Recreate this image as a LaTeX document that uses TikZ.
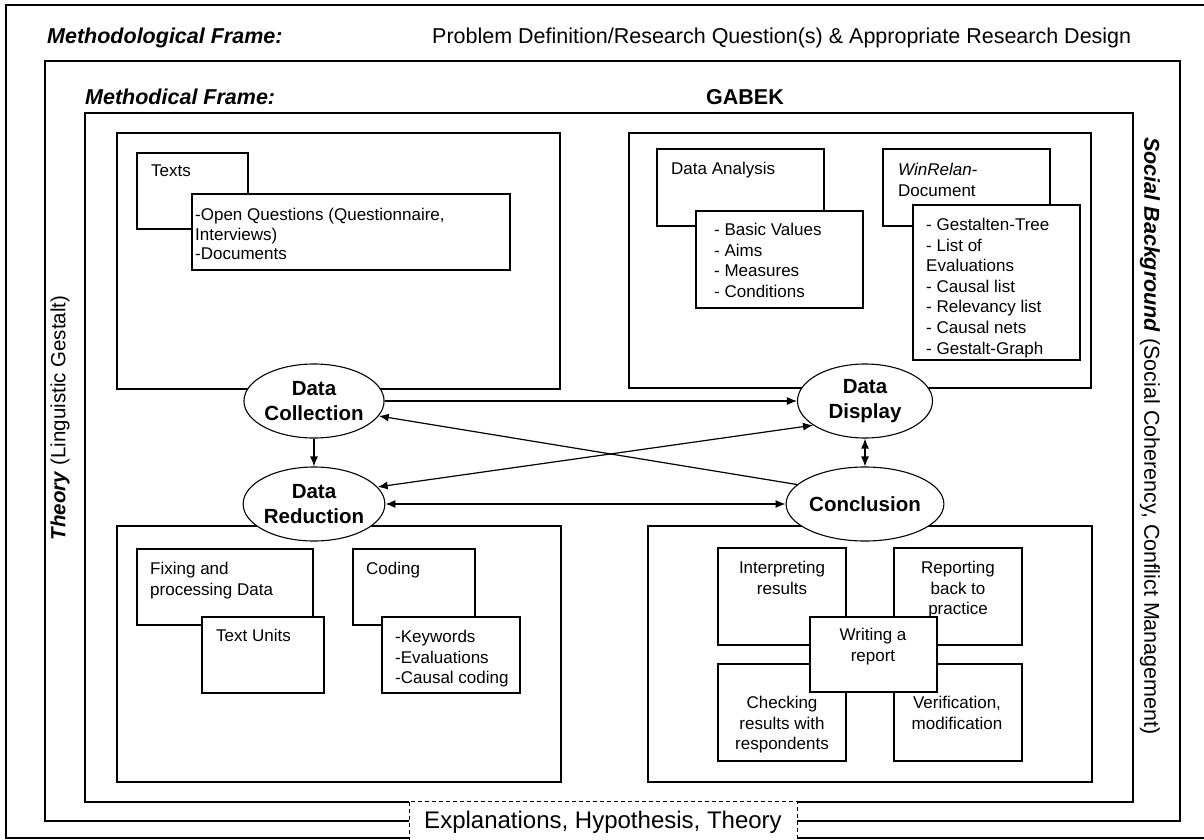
\documentclass[tikz,border=0pt]{standalone}
\usepackage{fontspec}
\setmainfont{Liberation Sans}
\usetikzlibrary{shapes.geometric,arrows.meta}
\begin{document}
\begin{tikzpicture}[x=1pt,y=-1pt,
  frame/.style={draw=black,line width=1.3pt},
  qbox/.style={draw=black,line width=1.1pt,fill=white,anchor=north west,inner sep=0pt,outer sep=0pt},
  txt/.style={anchor=north west,inner sep=0pt,align=left,font=\fontsize{17}{20.5}\selectfont},
  ctxt/.style={anchor=north,inner sep=0pt,align=center,font=\fontsize{17}{20.7}\selectfont},
  stage/.style={ellipse,draw=black,line width=1.1pt,fill=white,minimum width=135pt,minimum height=74pt,inner sep=0pt,align=center,font=\fontsize{20.5}{25}\selectfont\bfseries},
  hd/.style={anchor=west,inner sep=0pt,font=\fontsize{21.5}{25}\selectfont},
  tip/.tip={Latex[length=10pt,width=8pt]},
  arr/.style={line width=1.2pt,-tip},
  darr/.style={line width=1.2pt,tip-tip}
]
\useasboundingbox (0,0) rectangle (1204,840);
\clip (0,0) rectangle (1204,840);

% frames
\draw[frame] (6,5) rectangle (1215,838);
\draw[frame] (45,61) rectangle (1180,821);
\draw[frame] (85,113) rectangle (1133,802);

% headers
\node[hd,font=\fontsize{21.5}{25}\selectfont\bfseries\itshape] (h1) at (47,38) {Methodological Frame:};
\node[hd] (h2) at (432,38) {Problem Definition/Research Question(s) \& Appropriate Research Design};
\node[hd,font=\fontsize{21.5}{25}\selectfont\bfseries\itshape] (h3) at (85,97) {Methodical Frame:};
\node[inner sep=0pt,font=\fontsize{21.5}{25}\selectfont\bfseries] (h4) at (745,97) {GABEK};

% side texts
\node[rotate=90,inner sep=0pt,font=\fontsize{20.5}{24}\selectfont] (th) at (60,418) {\textbf{\textit{Theory}} (Linguistic Gestalt)};
\node[rotate=-90,inner sep=0pt,font=\fontsize{21.5}{25}\selectfont] (sb) at (1150,436) {\textbf{\textit{Social Background}} (Social Coherency, Conflict Management)};

% quadrants
\node[qbox,minimum width=443pt,minimum height=256pt] (q1) at (117,133) {};
\node[qbox,minimum width=462pt,minimum height=255pt] (q2) at (629,133) {};
\node[qbox,minimum width=444pt,minimum height=256pt] (q3) at (117,526) {};
\node[qbox,minimum width=444pt,minimum height=256pt] (q4) at (648,526) {};

% top-left
\node[qbox,minimum width=111pt,minimum height=76pt] (bTexts) at (137,153) {};
\node[txt] (tTexts) at (151,165) {Texts};
\node[qbox,minimum width=318pt,minimum height=76pt] (bOpen) at (192,194) {};
\node[txt,font=\fontsize{17}{19.7}\selectfont] (tOpen) at (195,208) {-Open Questions (Questionnaire,\\Interviews)\\-Documents};

% top-right
\node[qbox,minimum width=167pt,minimum height=77pt] (bDA) at (657,149) {};
\node[txt] (tDA) at (671,162) {Data Analysis};
\node[qbox,minimum width=167pt,minimum height=97pt] (bBV) at (696,211) {};
\node[txt] (tBV) at (714,223) {- Basic Values\\- Aims\\- Measures\\- Conditions};
\node[qbox,minimum width=167pt,minimum height=77pt] (bWR) at (883,149) {};
\node[txt] (tWR) at (898,163) {\textit{WinRelan}-\\Document};
\node[qbox,minimum width=167pt,minimum height=155pt] (bGL) at (913,205) {};
\node[txt,font=\fontsize{17}{20.6}\selectfont] (tGL) at (926,218) {- Gestalten-Tree\\- List of\\Evaluations\\- Causal list\\- Relevancy list\\- Causal nets\\- Gestalt-Graph};

% bottom-left
\node[qbox,minimum width=176pt,minimum height=76pt] (bFX) at (137,549) {};
\node[txt] (tFX) at (150,562) {Fixing and\\processing Data};
\node[qbox,minimum width=122pt,minimum height=76pt] (bTU) at (202,617) {};
\node[txt] (tTU) at (216,629) {Text Units};
\node[qbox,minimum width=122pt,minimum height=76pt] (bCD) at (353,549) {};
\node[txt] (tCD) at (366,562) {Coding};
\node[qbox,minimum width=138pt,minimum height=76pt] (bKW) at (382,617) {};
\node[txt] (tKW) at (395,630) {-Keywords\\-Evaluations\\-Causal coding};

% bottom-right
\node[qbox,minimum width=128pt,minimum height=97pt] (bIR) at (718,548) {};
\node[ctxt] (tIR) at (782,561) {Interpreting\\results};
\node[qbox,minimum width=128pt,minimum height=97pt] (bRB) at (894,548) {};
\node[ctxt] (tRB) at (958,561) {Reporting\\back to\\practice};
\node[qbox,minimum width=128pt,minimum height=97pt] (bCH) at (718,664) {};
\node[ctxt] (tCH) at (782,696) {Checking\\results with\\respondents};
\node[qbox,minimum width=128pt,minimum height=97pt] (bVM) at (894,664) {};
\node[ctxt] (tVM) at (957,696) {Verification,\\modification};
\node[qbox,minimum width=127pt,minimum height=75pt] (bWA) at (810,617) {};
\node[ctxt] (tWA) at (873,628) {Writing a\\report};

% stages
\node[stage] (dc) at (314,401) {Data\\Collection};
\node[stage] (dd) at (865,401) {Data\\Display};
\node[stage] (dr) at (314,504) {Data\\Reduction};
\node[stage] (cn) at (865,504) {Conclusion};

% connectors
\draw[arr] (dc.east) -- (dd.west);
\draw[arr] (cn.164) -- (dc.-13);
\draw[darr] (dr.15) -- (dd.205);
\draw[arr] (dc.south) -- (dr.north);
\draw[darr] (dr.east) -- (cn.west);
\draw[darr] (dd.south) -- (cn.north);

% bottom dashed box
\node[draw=black,dash pattern=on 4pt off 3pt,line width=0.9pt,fill=white,minimum width=388pt,minimum height=42pt,inner sep=0pt,font=\fontsize{24}{28}\selectfont] (ex) at (603,822) {Explanations, Hypothesis, Theory};
\end{tikzpicture}
\end{document}
